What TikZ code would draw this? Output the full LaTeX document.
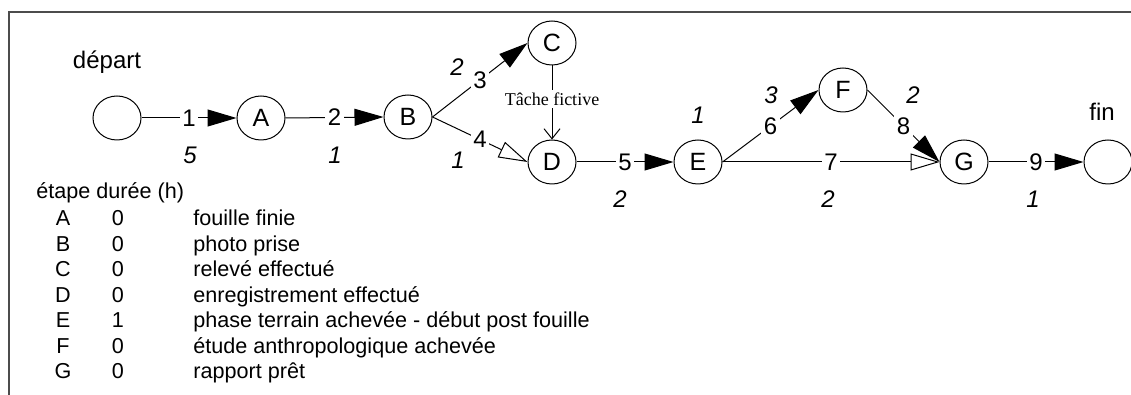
\documentclass[tikz,border=0pt]{standalone}
\usepackage{fontspec}
\setmainfont{Liberation Sans}
\newfontfamily\seriffont{Liberation Serif}
\usetikzlibrary{arrows.meta,shapes.geometric}
\begin{document}
\begin{tikzpicture}[x=0.5pt,y=-0.5pt,
  ev/.style={draw, ellipse, line width=0.5pt, minimum width=24pt, minimum height=22pt, inner sep=0pt, font=\fontsize{12.5}{14}\selectfont},
  lab/.style={fill=white, inner sep=1.2pt, font=\fontsize{12}{14}\selectfont},
  dur/.style={inner sep=0pt, font=\fontsize{12}{14}\selectfont\itshape},
  big/.style={inner sep=0pt, font=\fontsize{12}{14}\selectfont},
  tab/.style={font=\fontsize{10.8}{13}\selectfont, anchor=base, inner sep=0pt},
  fict/.style={fill=white, inner sep=1.2pt, font=\seriffont\fontsize{9}{11}\selectfont},
  conn/.style={line width=0.5pt},
  full/.style={conn, -{Triangle[length=14.5pt,width=8.5pt]}},
  hollow/.style={conn, -{Triangle[open,length=14.5pt,width=8.5pt]}},
  barb/.style={conn, -{Straight Barb[length=5pt,width=8pt]}}]
\useasboundingbox (0,0) rectangle (1131,395);
\begin{scope}
\clip (0,0) rectangle (1131,395);
\draw[line width=1pt, draw=black!70] (9,12) rectangle (1160,420);
\end{scope}
% events
\node[ev] (S) at (117,118) {};
\node[ev] (A) at (261,118) {A};
\node[ev] (B) at (408,117) {B};
\node[ev] (C) at (552,43) {C};
\node[ev] (D) at (552,162) {D};
\node[ev] (E) at (698,162) {E};
\node[ev] (F) at (843,90) {F};
\node[ev] (G) at (964,162) {G};
\node[ev] (T) at (1108,162) {};
\node[big] (ls) at (107,62) {départ};
\node[big] (lt) at (1102,112) {fin};
% tasks
\draw[full] (S.east) -- node[lab] (t1) {1} (A.west);
\draw[full] (A.east) -- node[lab] (t2) {2} (B.west);
\draw[full] (B.east) -- node[lab] (t3) {3} (C.west);
\draw[hollow] (B.east) -- node[lab] (t4) {4} (D.west);
\draw[barb] (C.south) -- node[fict, pos=0.45] (tf) {Tâche fictive} (D.north);
\draw[full] (D.east) -- node[lab] (t5) {5} (E.west);
\draw[full] (E.east) -- node[lab] (t6) {6} (F.west);
\draw[hollow] (E.east) -- node[lab] (t7) {7} (G.west);
\draw[full] (F.east) -- node[lab] (t8) {8} (G.west);
\draw[full] (G.east) -- node[lab] (t9) {9} (T.west);
% durations
\node[dur] (d1) at (190,155) {5};
\node[dur] (d2) at (335,155) {1};
\node[dur] (d3) at (457,67) {2};
\node[dur] (d4) at (458,160) {1};
\node[dur] (d5) at (620,199) {2};
\node[dur] (dE) at (698,115) {1};
\node[dur] (d6) at (771,95) {3};
\node[dur] (d8) at (913,95) {2};
\node[dur] (d7) at (828,199) {2};
\node[dur] (d9) at (1033,199) {1};
% table
\node[tab, anchor=base west] (hd) at (36,199) {étape durée (h)};
\foreach \l/\d/\t [count=\i from 0] in {A/0/fouille finie, B/0/photo prise, C/0/relevé effectué, D/0/enregistrement effectué, E/1/phase terrain achevée - début post fouille, F/0/étude anthropologique achevée, G/0/rapport prêt}{
  \node[tab] (r\l) at (63,226+25.5*\i) {\l};
  \node[tab] (v\l) at (118,226+25.5*\i) {\d};
  \node[tab, anchor=base west] (x\l) at (193,226+25.5*\i) {\t};
}
\end{tikzpicture}
\end{document}
